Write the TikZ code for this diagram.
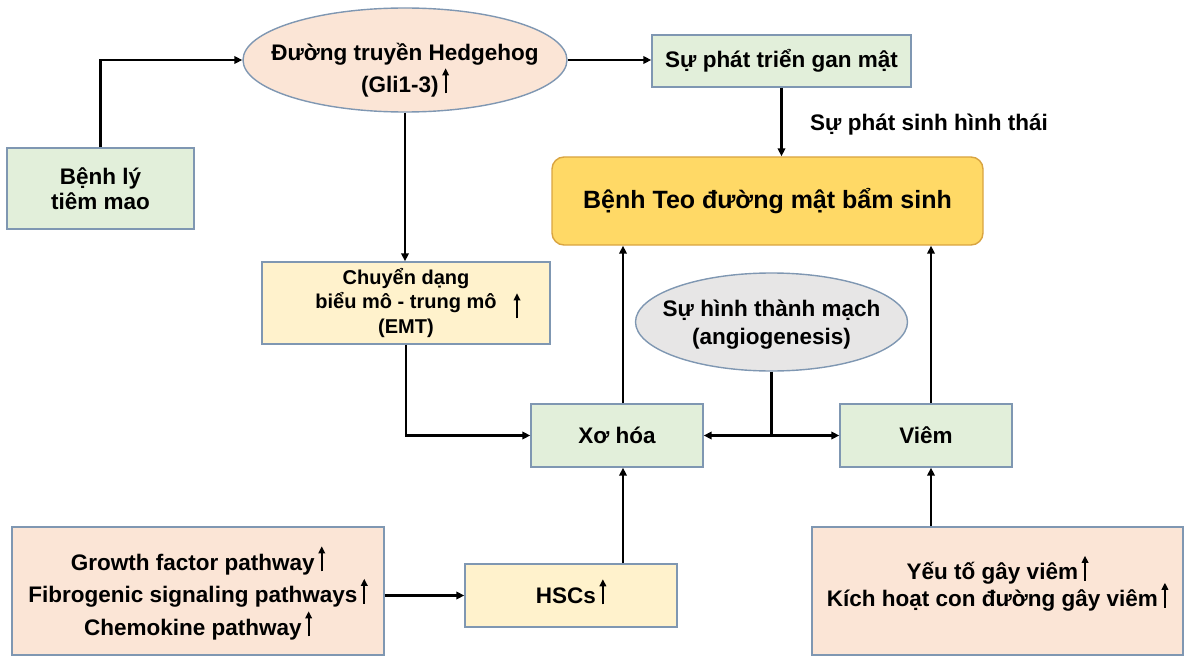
\documentclass[tikz,border=0pt]{standalone}
\usepackage{fontspec}
\setmainfont{Liberation Sans}
\usetikzlibrary{shapes.geometric,arrows.meta}

\definecolor{boxgreen}{HTML}{E2EFDA}
\definecolor{boxpeach}{HTML}{FBE5D6}
\definecolor{boxcream}{HTML}{FFF2CC}
\definecolor{boxgold}{HTML}{FFD966}
\definecolor{boxgray}{HTML}{E7E6E6}
\definecolor{edgeblue}{HTML}{7F97B2}
\definecolor{edgegold}{HTML}{D9A441}

% thin upward arrow used after the labels (smashed so it does not change line heights)
\newcommand{\uparr}{\smash{\tikz[baseline=0pt]\draw[black,line width=1.8pt,-{Triangle[length=7pt,width=6.5pt]}] (0pt,-1pt) -- (0pt,24pt);}}
\newcommand{\fs}[2]{\fontsize{#1}{#2}\selectfont}

\tikzset{
  base/.style={draw=edgeblue, line width=1.4pt, inner sep=0pt, align=center,
               font=\bfseries\fs{22.5}{25}},
  txt/.style={inner sep=0pt, align=center, font=\bfseries\fs{22.5}{25}},
  greenbox/.style={base, rectangle, fill=boxgreen},
  creambox/.style={base, rectangle, fill=boxcream},
  peachbox/.style={base, rectangle, fill=boxpeach},
  oval/.style={base, ellipse},
  arr/.style={black, line width=2.6pt, -{Triangle[length=8pt,width=7.5pt]}},
  link/.style={black, line width=2.6pt}
}

\begin{document}
\begin{tikzpicture}[x=1pt,y=-1pt]
\useasboundingbox (0,0) rectangle (1186,658);

% upper row
\node[greenbox, minimum width=187, minimum height=81] (cilia) at (100.5,188.5) {Bệnh lý\\tiêm mao};
\node[oval, fill=boxpeach, minimum width=324, minimum height=104,
      label={[txt, yshift=-10pt, font=\bfseries\fs{22.5}{32}]center:{Đường truyền Hedgehog\\(Gli1-3)\,\uparr}}]
      (hh) at (405,60) {};
\node[greenbox, minimum width=259, minimum height=52] (liver) at (781.5,61) {Sự phát triển gan mật};
\node[txt] (morph) at (929,125) {Sự phát sinh hình thái};

% central outcome
\node[base, rectangle, rounded corners=12pt, draw=edgegold, fill=boxgold, minimum width=431, minimum height=88,
      font=\bfseries\fs{25}{28}] (ba) at (767.5,201) {Bệnh Teo đường mật bẩm sinh};

% middle row
\node[creambox, minimum width=288, minimum height=82, font=\bfseries\fs{20}{24.5}] (emt) at (406,303)
  {Chuyển dạng\\biểu mô - trung mô\\(EMT)};
\node[anchor=south, inner sep=0pt] (emtup) at (517,318) {\uparr};
\node[oval, fill=boxgray, minimum width=272, minimum height=98,
      label={[txt, yshift=-3pt, font=\bfseries\fs{22.5}{28}]center:{Sự hình thành mạch\\(angiogenesis)}}]
      (ang) at (771.5,322) {};
\node[greenbox, minimum width=172, minimum height=63] (fib) at (617,435.5) {Xơ hóa};
\node[greenbox, minimum width=172, minimum height=63] (vi) at (926,435.5) {Viêm};

% lower row
\node[creambox, minimum width=212, minimum height=63] (hsc) at (571,595.5) {HSCs\,\uparr};
\node[peachbox, minimum width=372, minimum height=128,
      label={[txt, yshift=-6pt, font=\bfseries\fs{22.5}{32.5}]center:{Growth factor pathway\,\uparr\\Fibrogenic signaling pathways\,\uparr\\Chemokine pathway\,\uparr}}]
      (gf) at (198,591) {};
\node[peachbox, minimum width=371, minimum height=128,
      label={[txt, yshift=4pt, font=\bfseries\fs{22.5}{27}]center:{Yếu tố gây viêm\,\uparr\\Kích hoạt con đường gây viêm\,\uparr}}]
      (inf) at (997.5,591) {};

% vertical tracks
\coordinate (fx) at (623,0);
\coordinate (vx) at (931,0);

% connectors
\draw[arr] (cilia.north) |- (hh.west);
\draw[arr] (hh.east) -- (hh.east -| liver.west);
\draw[arr] (liver.south) -- (liver.south |- ba.north);
\draw[arr] (hh.south) -- (hh.south |- emt.north);
\draw[arr] (emt.south) |- (fib.west);
\draw[link] (ang.south) -- (ang.south |- fib.east) coordinate (junc);
\draw[arr] (junc) -- (fib.east);
\draw[arr] (junc) -- (vi.west);
\draw[arr] (fib.north -| fx) -- (ba.south -| fx);
\draw[arr] (vi.north -| vx) -- (ba.south -| vx);
\draw[arr] (hsc.north -| fx) -- (fib.south -| fx);
\draw[arr] (inf.north -| vx) -- (vi.south -| vx);
\draw[arr] (gf.east |- hsc.west) -- (hsc.west);
\end{tikzpicture}
\end{document}
